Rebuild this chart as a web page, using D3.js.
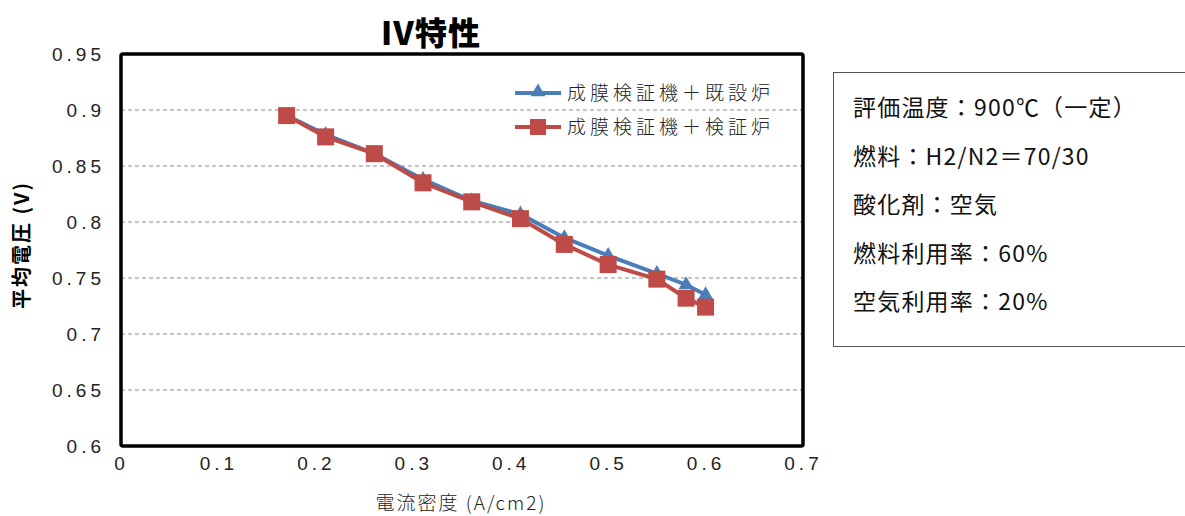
<!DOCTYPE html>
<html>
<head>
<meta charset="utf-8">
<script src="https://cdn.jsdelivr.net/npm/d3@7"></script>
<style>
    body { margin: 0; background: #fff; }
    svg { display: block; font-family: "Noto Sans CJK JP", sans-serif; }
    .axis .domain { display: none; }
    .axis text { font-size: 19px; fill: #222; letter-spacing: 4px; font-weight: 300; }
    .grid line { stroke: #8a8a8a; stroke-dasharray: 4 3; stroke-width: 1; }
</style>
</head>
<body>
<svg id="chart" width="1185" height="516"></svg>
<script>
// data
const currentDensity = [0.17, 0.21, 0.26, 0.31, 0.36, 0.41, 0.455, 0.50, 0.55, 0.58, 0.60];
const voltageExisting = [0.895, 0.878, 0.861, 0.838, 0.819, 0.807, 0.786, 0.770, 0.754, 0.744, 0.735];
const voltageVerify = [0.895, 0.876, 0.861, 0.835, 0.818, 0.803, 0.780, 0.762, 0.749, 0.732, 0.724];
const seriesNames = ['成膜検証機＋既設炉', '成膜検証機＋検証炉'];
const xTicks = [0, 0.1, 0.2, 0.3, 0.4, 0.5, 0.6, 0.7];
const yTicks = [0.6, 0.65, 0.7, 0.75, 0.8, 0.85, 0.9, 0.95];
const conditions = [
    '評価温度：900℃（一定）',
    '燃料：H2/N2＝70/30',
    '酸化剤：空気',
    '燃料利用率：60%',
    '空気利用率：20%'
];

const margin = {top: 54, left: 121, right: 382, bottom: 70};
const width = 1185 - margin.left - margin.right;
const height = 516 - margin.top - margin.bottom;

const xScale = d3.scaleLinear().domain([0, 0.7]).range([0, width]);
const yScale = d3.scaleLinear().domain([0.6, 0.95]).range([height, 0]);

const svg = d3.select('#chart');
const g = svg.append('g')
    .attr('transform', `translate(${margin.left}, ${margin.top})`);

// gridlines
g.append('g').attr('class', 'grid')
    .selectAll('line')
    .data(yTicks.filter(d => d > 0.6 && d < 0.95))
    .join('line')
    .attr('x1', 0).attr('x2', width)
    .attr('y1', d => yScale(d)).attr('y2', d => yScale(d));

// axes
const yAxis = d3.axisLeft(yScale)
    .tickValues(yTicks)
    .tickSize(0)
    .tickPadding(16)
    .tickFormat(d3.format('~g'));
g.append('g').attr('class', 'axis axis--y').call(yAxis);

const xAxis = d3.axisBottom(xScale)
    .tickValues(xTicks)
    .tickSize(0)
    .tickPadding(11)
    .tickFormat(d3.format('~g'));
g.append('g').attr('class', 'axis axis--x')
    .attr('transform', `translate(0, ${height})`)
    .call(xAxis);

// plot frame
g.append('rect')
    .attr('x', 0).attr('y', 0)
    .attr('width', width).attr('height', height)
    .attr('rx', 2)
    .attr('fill', 'none')
    .attr('stroke', '#000')
    .attr('stroke-width', 3.5);

const line = d3.line()
    .x((d, i) => xScale(currentDensity[i]))
    .y(d => yScale(d));

const blue = '#4a7ebb';
const red = '#be4b48';

// series 1: triangles
g.append('path')
    .datum(voltageExisting)
    .attr('d', line)
    .attr('fill', 'none')
    .attr('stroke', blue)
    .attr('stroke-width', 4);

const triangle = d3.symbol().type(d3.symbolTriangle).size(95);
g.selectAll('.tri')
    .data(voltageExisting)
    .join('path')
    .attr('class', 'tri')
    .attr('d', triangle)
    .attr('fill', blue)
    .attr('transform', (d, i) => `translate(${xScale(currentDensity[i])}, ${yScale(d)})`);

// series 2: squares
g.append('path')
    .datum(voltageVerify)
    .attr('d', line)
    .attr('fill', 'none')
    .attr('stroke', red)
    .attr('stroke-width', 4);

g.selectAll('.sq')
    .data(voltageVerify)
    .join('rect')
    .attr('class', 'sq')
    .attr('x', (d, i) => xScale(currentDensity[i]) - 8.5)
    .attr('y', d => yScale(d) - 8.5)
    .attr('width', 17)
    .attr('height', 17)
    .attr('fill', red);

// legend
const legend = g.append('g').attr('transform', 'translate(394, 39)');
const legendItems = legend.selectAll('g')
    .data(seriesNames)
    .join('g')
    .attr('transform', (d, i) => `translate(0, ${i * 34})`);
legendItems.append('line')
    .attr('x1', 0).attr('x2', 46)
    .attr('stroke', (d, i) => i === 0 ? blue : red)
    .attr('stroke-width', 4);
legendItems.each(function(d, i) {
    const item = d3.select(this);
    if (i === 0) {
        item.append('path').attr('d', triangle).attr('fill', blue)
            .attr('transform', 'translate(23, -1)');
    } else {
        item.append('rect').attr('x', 15).attr('y', -8).attr('width', 16).attr('height', 16)
            .attr('fill', red);
    }
});
legendItems.append('text')
    .attr('x', 52)
    .attr('dy', '0.35em')
    .attr('font-size', 19)
    .attr('font-weight', 300)
    .attr('letter-spacing', 4)
    .attr('fill', '#222')
    .text(d => d);

// titles
svg.append('text')
    .attr('x', 431).attr('y', 45)
    .attr('text-anchor', 'middle')
    .attr('font-size', 32)
    .attr('font-weight', 900)
    .attr('letter-spacing', 1)
    .text('IV特性');

svg.append('text')
    .attr('x', 461).attr('y', 510)
    .attr('text-anchor', 'middle')
    .attr('font-size', 19)
    .attr('font-weight', 300)
    .attr('letter-spacing', 2)
    .attr('fill', '#222')
    .text('電流密度 (A/cm2)');

svg.append('text')
    .attr('transform', 'translate(29, 245) rotate(-90)')
    .attr('text-anchor', 'middle')
    .attr('font-size', 20)
    .attr('font-weight', 700)
    .attr('letter-spacing', 2)
    .text('平均電圧 (V)');

// conditions box
svg.append('rect')
    .attr('x', 833.5).attr('y', 72.5)
    .attr('width', 360).attr('height', 274)
    .attr('fill', '#fff')
    .attr('stroke', '#555')
    .attr('stroke-width', 1);

svg.append('g').selectAll('text')
    .data(conditions)
    .join('text')
    .attr('x', 853)
    .attr('y', (d, i) => 116 + i * 48.5)
    .attr('font-size', 23)
    .attr('letter-spacing', 1.2)
    .attr('fill', '#111')
    .text(d => d);
</script>
</body>
</html>
